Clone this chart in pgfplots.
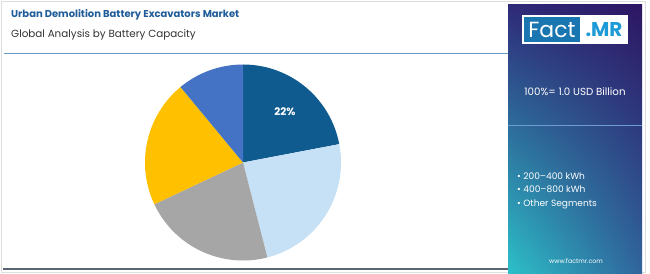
\documentclass[border=0pt]{standalone}
\usepackage{pgfplots}
\pgfplotsset{compat=1.18}
\usepackage{pgfplotstable}
\usetikzlibrary{shadings}
\usepackage{fontspec}
\setmainfont{Poppins}
\definecolor{titleblue}{HTML}{1F5C99}
\definecolor{subgray}{HTML}{333333}
\definecolor{rule}{HTML}{6B9AC4}
\definecolor{bottomrule}{HTML}{5A6472}
\definecolor{frame}{HTML}{DDDDDD}
\definecolor{slice0}{HTML}{0F5A8F}
\definecolor{slice1}{HTML}{C6E1F5}
\definecolor{slice2}{HTML}{A6A6A6}
\definecolor{slice3}{HTML}{FFC000}
\definecolor{slice4}{HTML}{4472C4}
\definecolor{pUL}{HTML}{2E2A78}
\definecolor{pUR}{HTML}{2D1664}
\definecolor{pLL}{HTML}{2CC0C8}
\definecolor{pLR}{HTML}{30649C}
\definecolor{divider}{HTML}{6E9BD0}
\definecolor{logoblue}{HTML}{1A76B0}
\definecolor{mrblue}{HTML}{1E9AD6}

\pgfplotstableread{
segment value
A 22
B 24
C 22
D 21
E 11
}\piedata

\begin{document}
\begin{tikzpicture}[x=1bp,y=1bp]
\path[use as bounding box] (0,0) rectangle (650,273);
\fill[white] (0,0) rectangle (650,273);
\draw[frame,line width=0.8bp] (1,1) rectangle (645.5,272);
% title
\node[anchor=base west,inner sep=0pt,text=titleblue,font=\bfseries\fontsize{10}{12}\selectfont] at (11,256) {Urban Demolition Battery Excavators Market};
\node[anchor=base west,inner sep=0pt,text=subgray,font=\fontsize{10.4}{12}\selectfont] at (11,236) {Global Analysis by Battery Capacity};
\draw[rule,line width=1bp] (4,220) -- (509,220);
\draw[bottomrule,line width=2bp] (3,4) -- (510,4);
% right panel
\shade[upper left=pUL,upper right=pUR,lower left=pLL,lower right=pLR] (508,0) rectangle (642,268);
\draw[divider,line width=1bp] (508,148) -- (642,148);
\fill[white] (522,229) rectangle (628,258);
\fill[logoblue] (524,231) rectangle (580,256);
\node[text=white,inner sep=0pt,font=\fontsize{22}{24}\selectfont] at (552,243.5) {Fact};
\node[text=mrblue,inner sep=0pt,font=\bfseries\fontsize{20}{22}\selectfont] at (604,243.5) {.MR};
\node[text=white,inner sep=0pt,font=\fontsize{10.3}{12}\selectfont] at (575,181) {100\%= 1.0 USD Billion};
\node[text=white,anchor=base west,inner sep=0pt,font=\fontsize{9.1}{10}\selectfont] at (517,94) {\textbullet\ 200–400 kWh};
\node[text=white,anchor=base west,inner sep=0pt,font=\fontsize{9.1}{10}\selectfont] at (517,80.5) {\textbullet\ 400–800 kWh};
\node[text=white,anchor=base west,inner sep=0pt,font=\fontsize{9.1}{10}\selectfont] at (517,67) {\textbullet\ Other Segments};
\node[text=white,inner sep=0pt,font=\fontsize{6.3}{7}\selectfont] at (576,12) {www.factmr.com};
% pie angles
\xdef\cum{90}
\foreach \i in {0,...,4}{
  \pgfplotstablegetelem{\i}{value}\of\piedata
  \pgfmathsetmacro\en{\cum-3.6*\pgfplotsretval}
  \expandafter\xdef\csname sa\i\endcsname{\cum}
  \expandafter\xdef\csname ea\i\endcsname{\en}
  \xdef\cum{\en}
}
\pgfplotstablegetelem{0}{value}\of\piedata
\xdef\firstval{\pgfplotsretval}
\pgfmathsetmacro\midang{(\csname sa0\endcsname+\csname ea0\endcsname)/2}
\begin{axis}[at={(243bp,110.5bp)},anchor=center,x=98bp,y=98bp,
  xmin=-1,xmax=1,ymin=-1,ymax=1,hide axis,clip=false]
\pgfplotsinvokeforeach{0,...,4}{
  \fill[slice#1] (axis cs:0,0) -- ++(\csname sa#1\endcsname:98bp)
    arc[start angle=\csname sa#1\endcsname,end angle=\csname ea#1\endcsname,radius=98bp] -- cycle;
}
\node[text=white,font=\bfseries\fontsize{10.5}{12}\selectfont] at (axis cs:{0.67*cos(\midang)},{0.67*sin(\midang)}) {\firstval\%};
\end{axis}
\end{tikzpicture}
\end{document}
